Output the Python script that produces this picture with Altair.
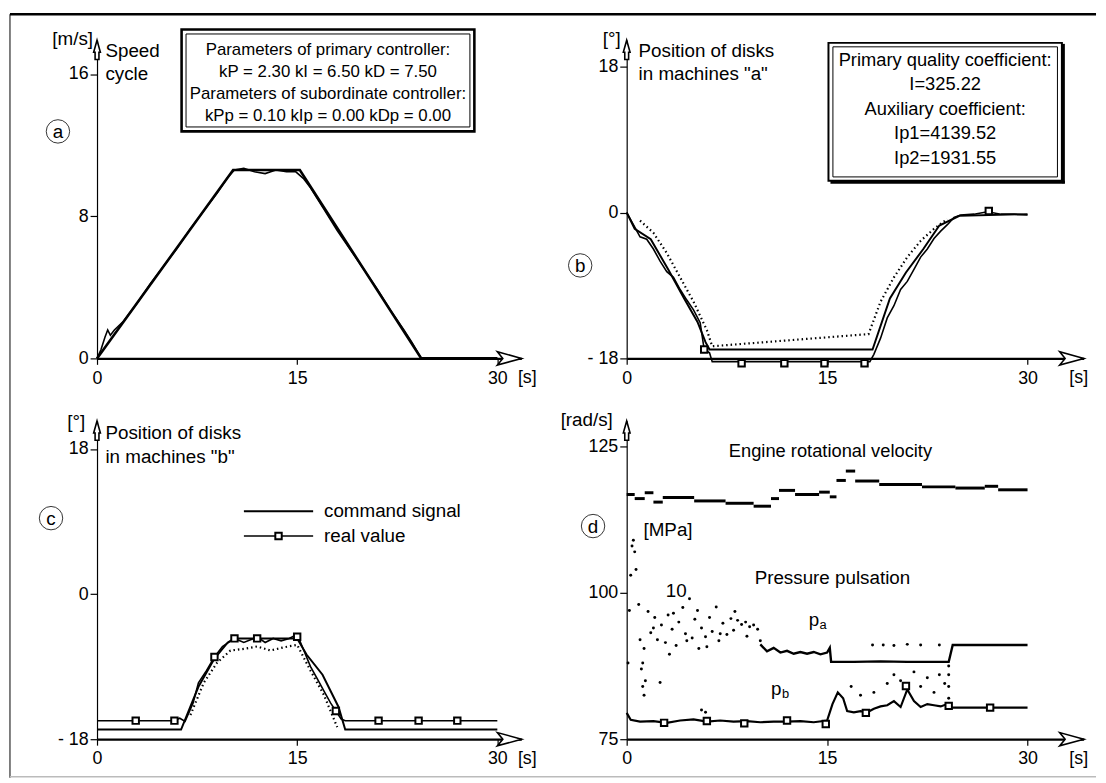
import altair as alt
import pandas as pd

FONT = "Liberation Sans"
H = 322
XA, XB = 31.8, 34.2          # x-domain end (arrow tip) of left / right column
PXU = 13.5                   # pixels per second
WA, WB = round(XA * PXU), round(XB * PXU)

# ---------------- data ----------------
# panel a: speed cycle [m/s]
a_cmd_t = [0, 10.2, 15.2, 24.3, 30]
a_cmd_v = [0, 10.6, 10.6, 0, 0]
a_real_t = [0, 0.3, 0.6, 0.8, 1.0, 1.3, 2, 3, 4, 5, 6, 7, 8, 9, 9.8, 10.3, 11, 11.8, 12.6, 13.4,
            14.2, 14.9, 15.5, 16, 17, 18, 19, 20, 21, 22, 23, 23.6, 24.3, 25, 27, 30]
a_real_v = [0, 0.5, 1.2, 1.6, 1.3, 1.6, 2.1, 3.1, 4.2, 5.2, 6.2, 7.3, 8.3, 9.3, 10.2, 10.6, 10.7, 10.5,
            10.4, 10.6, 10.5, 10.5, 10.1, 9.6, 8.4, 7.2, 6.1, 5.0, 3.9, 2.7, 1.6, 0.9, 0.0, 0.0, 0.0, 0.0]

# panel b: position of disks in machines "a" [deg]
b_cmd_t = [0, 0.6, 1.8, 3.1, 4.3, 5.3, 5.9, 6.2, 18.4, 19.7, 20.9, 22.2, 23.4, 24.9, 30]
b_cmd_v = [0, -2.0, -3.3, -7.0, -10.6, -13.5, -16.0, -16.9, -16.9, -10.6, -7.4, -4.5, -1.6, -0.4, -0.2]
b_real_t = [0, 0.5, 1, 1.5, 2, 2.5, 3, 3.5, 4, 4.5, 5, 5.5, 5.8, 6.2, 6.4, 18.2, 18.5, 19, 19.5, 20,
            20.5, 21, 21.5, 22, 22.5, 23, 23.5, 24, 24.5, 25, 26, 27, 28, 29, 30]
b_real_v = [0, -1.5, -3.0, -3.3, -4.5, -6.0, -7.3, -8.0, -9.5, -10.8, -12.0, -13.6, -16.9, -17.3, -18.4,
            -18.4, -17.5, -15.5, -13.0, -11.5, -9.5, -8.5, -7.0, -5.5, -4.5, -3.2, -2.3, -1.5, -0.6,
            -0.3, -0.2, 0.1, -0.2, -0.2, -0.3]
b_spread_t = [1.0, 2.0, 3.0, 4.0, 5.0, 6.0, 6.4, None, 18.1, 19.0, 20.0, 21.0, 22.0, 23.0, 24.0]
b_spread_v = [-1.0, -2.5, -5.0, -8.0, -11.0, -14.5, -16.5, None, -15.0, -11.0, -8.0, -5.5, -3.5, -2.0, -0.8]
b_mark_t = [5.8, 8.6, 11.8, 14.8, 17.8, 27.1]
b_mark_v = [-16.9, -18.6, -18.6, -18.6, -18.6, 0.2]

# panel c: position of disks in machines "b" [deg]
c_cmd_t = [0, 6.3, 7.6, 8.8, 9.8, 10.3, 15.0, 15.7, 16.9, 18.1, 18.6, 30]
c_cmd_v = [-16.8, -16.8, -11.5, -8.0, -6.0, -5.5, -5.5, -7.5, -10.0, -14.0, -16.8, -16.8]
c_real_t = [0, 3, 5.8, 6.2, 6.6, 7.2, 7.6, 8.2, 8.8, 9.4, 10.3, 11, 11.6, 12, 12.6, 13.2, 13.8, 14.4,
            15, 15.5, 16, 16.5, 17, 17.5, 17.9, 18.3, 18.6, 21.1, 24.1, 27, 30]
c_real_v = [-15.7, -15.7, -15.7, -15.4, -15.8, -13.5, -11.0, -9.5, -7.8, -6.5, -5.5, -6.0, -5.6, -5.3,
            -6.0, -5.5, -5.8, -5.5, -5.0, -7.0, -9.0, -10.5, -12.0, -13.5, -14.5, -15.5, -15.7, -15.7,
            -15.7, -15.7, -15.7]
c_spread_t = [7.0, 8.0, 9.0, 10.0, 11.0, 12.0, 13.0, 14.0, 15.0, 16.0, 17.0, 18.0]
c_spread_v = [-15.0, -11.0, -8.5, -7.0, -6.8, -6.5, -7.0, -6.6, -6.3, -9.5, -12.5, -16.5]
c_mark_t = [2.9, 5.8, 8.8, 10.3, 12.0, 15.0, 17.9, 21.1, 24.1, 27.0]
c_mark_v = [-15.7, -15.7, -7.8, -5.5, -5.5, -5.3, -14.5, -15.7, -15.7, -15.7]

# panel d: engine rotational velocity [rad/s] (step segments) and pressures
eng_t = [0, 0.6, 1.35, 2.0, 2.7, 5.05, 7.4, 9.5, 10.8, 11.4, 12.6, 14.4, 15.2, 15.7, 16.4, 17.1,
         18.9, 22.1, 24.6, 26.8, 27.8, 30]
eng_v = [116.8, 116.1, 117.1, 115.5, 116.3, 115.7, 115.3, 114.8, 116.1, 117.5, 116.8, 117.2, 116.4,
         119.2, 120.8, 119.1, 118.5, 118.1, 117.9, 118.2, 117.6, 117.6]
pa_t = [10.0, 10.5, 11, 11.5, 12, 12.5, 13, 13.5, 14, 14.5, 15.0, 15.2, 15.3, 17, 19, 21, 23, 24.1,
        24.4, 26, 28, 30]
pa_v = [91.2, 90.0, 90.6, 89.8, 90.1, 89.6, 89.9, 89.6, 89.9, 89.5, 89.8, 90.6, 88.2, 88.2, 88.3, 88.2,
        88.2, 88.2, 91.1, 91.1, 91.1, 91.1]
pa_dots_t = [1.6, 1.8, 2.1, 2.3, 2.6, 2.9, 3.1, 3.4, 3.7, 3.9, 4.2, 4.4, 4.7, 4.9, 5.1, 5.4, 5.6, 5.9,
             6.2, 6.4, 6.7, 6.9, 7.2, 7.5, 7.8, 8.0, 8.3, 8.6, 8.9, 9.2, 9.5, 9.8, 10.0, 1.2, 1.3,
             1.4, 2.5, 3.2, 0.1, 0.2, 0.3, 0.4, 0.5, 0.6, 0.7, 0.9, 1.0, 1.1, 18.4, 19.2, 20.0, 21.0,
             22.0, 23.4, 2.0, 3.5, 4.5, 5.3, 6.0, 7.0, 8.1, 9.0]
pa_dots_v = [96.8, 93.2, 95.8, 92.0, 94.5, 91.5, 96.2, 93.8, 91.0, 95.0, 97.5, 93.0, 99.0, 92.3, 95.5,
             90.5, 94.0, 92.5, 95.8, 93.4, 97.6, 91.8, 94.8, 92.9, 95.6, 93.6, 95.3, 94.6, 95.0, 94.2,
             94.5, 93.8, 91.8, 88.0, 90.5, 85.0, 84.7, 89.5, 88.0, 97.0, 103.0, 108.0, 109.0, 107.0,
             104.0, 98.0, 92.0, 87.0, 91.1, 91.1, 91.0, 91.2, 91.1, 91.1, 94.0, 96.5, 91.8, 97.0,
             90.8, 93.0, 96.8, 92.6]
pb_t = [0, 0.3, 1, 2, 3, 4, 5, 6, 7, 8, 9, 10, 11, 12, 13, 14, 15, 15.4, 15.8, 16.2, 16.5, 17, 17.5,
        18, 18.5, 19, 19.5, 20, 20.5, 21, 21.5, 22, 22.5, 23, 23.5, 24, 24.2, 26, 28, 30]
pb_v = [79.5, 78.3, 78.0, 78.1, 77.8, 78.2, 78.4, 78.0, 78.2, 78.0, 78.1, 77.9, 78.0, 78.0, 78.1, 77.9,
        78.2, 81.0, 83.0, 82.0, 79.8, 79.6, 79.8, 79.6, 80.2, 80.6, 80.8, 81.5, 80.5, 83.5, 81.5, 80.5,
        81.0, 80.8, 80.6, 81.0, 80.4, 80.4, 80.4, 80.4]
pb_dots_t = [1.2, 1.3, 16.8, 17.5, 18.5, 19.5, 20.0, 20.5, 21.0, 21.5, 22.0, 22.5, 23.0, 23.4, 23.8,
             24.1, 24.1, 24.1, 24.1, 5.6, 5.9]
pb_dots_v = [84.0, 82.5, 84.0, 82.5, 83.0, 84.5, 86.0, 85.0, 84.5, 86.5, 84.0, 85.5, 83.0, 86.0, 84.5,
             82.0, 84.0, 86.0, 87.5, 80.0, 79.6]
pb_mark_t = [2.8, 6.0, 8.8, 12.0, 14.9, 17.9, 20.9, 24.1, 27.2]
pb_mark_v = [77.8, 78.1, 77.7, 78.2, 77.6, 79.5, 84.1, 80.7, 80.4]

# ---------------- helpers ----------------
ONE = pd.DataFrame({"k": [0]})
XARROW = "M1,0 L-1,-0.55 L-0.55,0 L-1,0.55 Z"
YARROW = "M0,-1 L0.35,0.25 L0.2,0.25 L0.2,1 L-0.2,1 L-0.2,0.25 L-0.35,0.25 Z"


def xenc(xmax, field="t"):
    return alt.X(f"{field}:Q", scale=alt.Scale(domain=[0, xmax], nice=False, zero=False),
                 axis=alt.Axis(values=[0, 15, 30], title=None, grid=False, domainWidth=2.2,
                               domainColor="black", tickColor="black", tickSize=6, tickWidth=1.2,
                               labelFont=FONT, labelFontSize=18, labelColor="black",
                               labelPadding=5, labelFlush=False))


def yenc(p, field="v"):
    lo, hi, ticks, _ = p
    return alt.Y(f"{field}:Q", scale=alt.Scale(domain=[lo, hi], nice=False, zero=False),
                 axis=alt.Axis(values=ticks, title=None, grid=False, domainWidth=1.2,
                               domainColor="black", tickColor="black", tickSize=7, tickWidth=1.2,
                               labelFont=FONT, labelFontSize=18, labelColor="black",
                               labelPadding=2, labelFlush=False,
                               labelExpr="datum.value < 0 ? '- ' + abs(datum.value) : datum.label"))


def df(t, v):
    return pd.DataFrame({"t": t, "v": v})


def line(p, t, v, width=2.0, dash=None):
    kw = dict(color="black", strokeWidth=width, clip=False)
    if dash:
        kw["strokeDash"] = dash
    return alt.Chart(df(t, v)).mark_line(**kw).encode(x=xenc(p[3]), y=yenc(p))


def dots(p, t, v, size=7):
    return alt.Chart(df(t, v)).mark_circle(color="black", size=size, opacity=1).encode(
        x=xenc(p[3]), y=yenc(p))


def squares(p, t, v):
    return alt.Chart(df(t, v)).mark_point(shape="square", size=42, filled=True, fill="white",
                                          stroke="black", strokeWidth=2, opacity=1).encode(
        x=xenc(p[3]), y=yenc(p))


def txt(s, x, y, size=19, align="left", baseline="middle"):
    return alt.Chart(ONE).mark_text(text=s, font=FONT, fontSize=size, align=align,
                                    baseline=baseline, color="black").encode(
        x=alt.value(x), y=alt.value(y))


def rect(x, y, x2, y2, sw):
    return alt.Chart(ONE).mark_rect(fill="white", fillOpacity=0, stroke="black",
                                    strokeWidth=sw).encode(
        x=alt.value(x), x2=alt.value(x2), y=alt.value(y), y2=alt.value(y2))


def seg(x, x2, y, y2=None, sw=1.5, color="black"):
    enc = dict(x=alt.value(x), x2=alt.value(x2), y=alt.value(y))
    if y2 is not None:
        enc["y2"] = alt.value(y2)
    return alt.Chart(ONE).mark_rule(color=color, strokeWidth=sw).encode(**enc)


def circ(x, y, letter):
    c = alt.Chart(ONE).mark_point(shape="circle", size=560, filled=True, fill="white",
                                  stroke="black", strokeWidth=0.8, opacity=1).encode(
        x=alt.value(x), y=alt.value(y))
    return [c, txt(letter, x, y + 1, size=19, align="center")]


def arrows(w, sdx):
    xa = alt.Chart(ONE).mark_point(shape=XARROW, size=600, filled=True, fill="white",
                                   stroke="black", strokeWidth=1.6, opacity=1).encode(
        x=alt.value(w - 12), y=alt.value(H))
    ya = alt.Chart(ONE).mark_point(shape=YARROW, size=380, filled=True, fill="white",
                                   stroke="black", strokeWidth=1.6, opacity=1).encode(
        x=alt.value(0), y=alt.value(10))
    return [xa, ya, txt("[s]", w + sdx, H + 20, size=18, align="center")]


PA = (0, 17.92, [0, 8, 16], XA)
PB = (-18, 21.3, [-18, 0, 18], XB)
PC = (-18, 21.5, [-18, 0, 18], XA)
PD = (75, 129.4, [75, 100, 125], XB)

# ---------------- panel a ----------------
la = [
    line(PA, a_cmd_t, a_cmd_v, width=2.6),
    line(PA, a_real_t, a_real_v, width=1.6),
    *arrows(WA, 6),
    # outer frame of the whole figure
    seg(-88, 1010, -26, sw=2.5),
    seg(-88, -88, -26, 746, sw=1),
    seg(-88, 1010, 745, sw=1.5, color="#bbbbbb"),
    txt("[m/s]", -4, -0.5, align="right"),
    txt("Speed", 8.5, 11),
    txt("cycle", 8.5, 34.5),
    *circ(-39.5, 92.5, "a"),
    rect(85.5, -10.5, 381.5, 92.5, 2.6),
    rect(90, -6, 377, 88, 1),
    txt("Parameters of primary controller:", 233.5, 10.5, size=17, align="center"),
    txt("kP = 2.30  kI = 6.50  kD = 7.50", 233.5, 32.5, size=17, align="center"),
    txt("Parameters of subordinate controller:", 233.5, 54.5, size=17, align="center"),
    txt("kPp = 0.10  kIp = 0.00  kDp = 0.00", 233.5, 76.5, size=17, align="center"),
]
pan_a = alt.layer(*la).properties(width=WA, height=H)

# ---------------- panel b ----------------
lb = [
    line(PB, b_cmd_t, b_cmd_v, width=2.0),
    line(PB, b_real_t, b_real_v, width=1.6),
    line(PB, b_spread_t, b_spread_v, width=2.2, dash=[1.5, 3]),
    squares(PB, b_mark_t, b_mark_v),
    *arrows(WB, -5),
    txt("[°]", -6, -0.5, align="right"),
    txt("Position of disks", 12, 11),
    txt("in machines \"a\"", 12, 34.5),
    *circ(-47, 228, "b"),
    rect(204, 3, 440, 142.5, 2),
    rect(208.5, 7, 435.5, 138.5, 1),
    seg(441.5, 441.5, 4, 145, sw=3),
    seg(206, 443, 144, sw=3),
    txt("Primary quality coefficient:", 322, 20, size=18.5, align="center"),
    txt("I=325.22", 322, 45, size=18.5, align="center"),
    txt("Auxiliary coefficient:", 322, 70, size=18.5, align="center"),
    txt("Ip1=4139.52", 322, 94.5, size=18.5, align="center"),
    txt("Ip2=1931.55", 322, 119, size=18.5, align="center"),
]
pan_b = alt.layer(*lb).properties(width=WB, height=H)

# ---------------- panel c ----------------
lc = [
    line(PC, c_cmd_t, c_cmd_v, width=2.0),
    line(PC, c_real_t, c_real_v, width=1.6),
    line(PC, c_spread_t, c_spread_v, width=2.2, dash=[1.5, 3]),
    squares(PC, c_mark_t, c_mark_v),
    *arrows(WA, 6),
    txt("[°]", -12, 1.5, align="right"),
    txt("Position of disks", 8.5, 12.5),
    txt("in machines \"b\"", 8.5, 36.5),
    *circ(-46.5, 98.5, "c"),
    seg(148.5, 218.5, 91.5, sw=2.2),
    seg(148.5, 218.5, 116.5, sw=1.5),
    alt.Chart(ONE).mark_point(shape="square", size=42, filled=True, fill="white", stroke="black",
                              strokeWidth=2, opacity=1).encode(x=alt.value(183.5),
                                                               y=alt.value(116.5)),
    txt("command signal", 229.5, 91.5),
    txt("real value", 229.5, 116.5),
]
pan_c = alt.layer(*lc).properties(width=WA, height=H)

# ---------------- panel d ----------------
eng = pd.DataFrame({"t": eng_t[:-1], "t1": eng_t[1:], "v": eng_v[:-1]})
ld = [
    alt.Chart(eng).mark_rule(color="black", strokeWidth=3).encode(
        x=xenc(XB), x2=alt.X2("t1:Q"), y=yenc(PD)),
    line(PD, pa_t, pa_v, width=2.4),
    dots(PD, pa_dots_t, pa_dots_v, size=9),
    line(PD, pb_t, pb_v, width=2.2),
    dots(PD, pb_dots_t, pb_dots_v, size=9),
    squares(PD, pb_mark_t, pb_mark_v),
    *arrows(WB, -5),
    txt("[rad/s]", -14, -0.5, align="right"),
    *circ(-34, 106.5, "d"),
    txt("Engine rotational velocity", 206, 31, size=18.5, align="center"),
    txt("[MPa]", 17, 111),
    txt("Pressure pulsation", 208, 159.5, align="center"),
    txt("10", 50, 172.5, align="center"),
    txt("p", 184, 202),
    txt("a", 195, 207, size=13),
    txt("p", 146, 271),
    txt("b", 157, 276.5, size=13),
]
pan_d = alt.layer(*ld).properties(width=WB, height=H)

chart = alt.concat(pan_a, pan_b, pan_c, pan_d, columns=2,
                   spacing={"row": 63, "column": 632 - 96.5 - WA}, bounds="flush").properties(
    padding={"left": 0, "top": 0, "right": 0, "bottom": 0}, background="white"
).configure_view(stroke=None)

chart.save("out.html", embed_options={"renderer": "svg", "actions": False})
